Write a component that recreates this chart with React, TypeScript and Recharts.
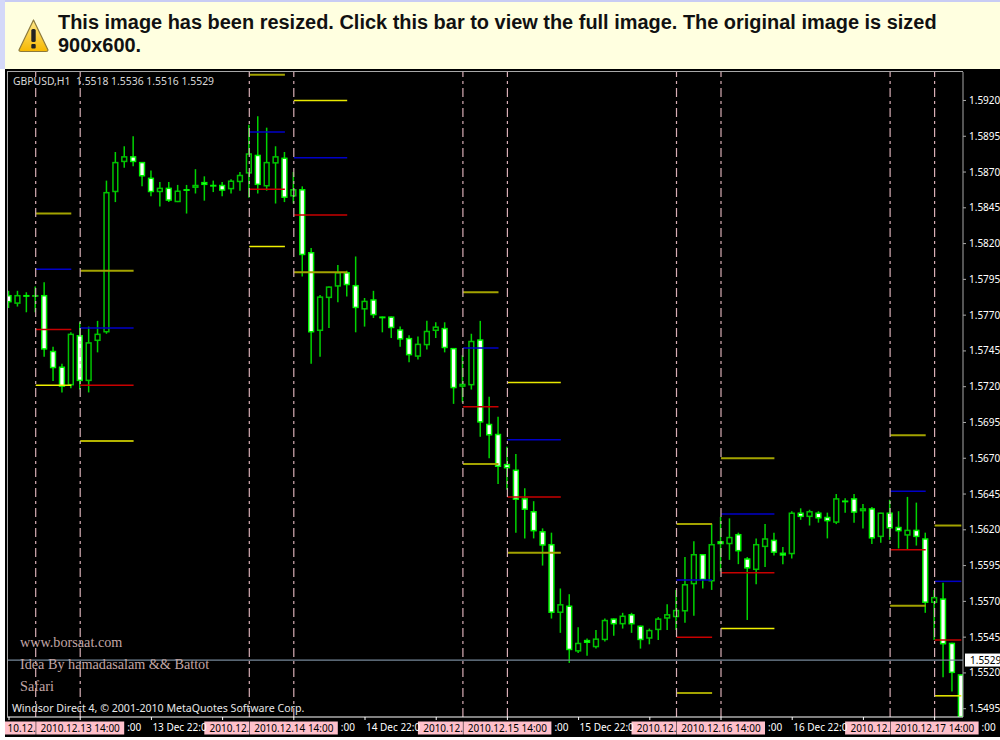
import React from "react";
import { ComposedChart, Bar, XAxis, YAxis, ReferenceLine } from "recharts";

const opens = [1.5784,1.5778,1.5784,1.5783,1.5784,1.5745,1.5734,1.5721,1.5756,1.5724,
1.5752,1.5758,1.5856,1.5877,1.5881,1.5877,1.5866,1.5856,1.5859,1.5849,
1.5858,1.5859,1.5863,1.5861,1.5861,1.5858,1.5863,1.5869,1.5882,1.5860,
1.5876,1.5880,1.5853,1.5858,1.5814,1.5759,1.5782,1.5790,1.5800,1.5791,
1.5774,1.5781,1.5769,1.5769,1.5760,1.5754,1.5741,1.5749,1.5759,1.5761,
1.5747,1.5720,1.5721,1.5753,1.5694,1.5687,1.5666,1.5662,1.5642,1.5633,
1.5619,1.5610,1.5562,1.5567,1.5535,1.5543,1.5538,1.5543,1.5558,1.5554,
1.5561,1.5553,1.5544,1.5550,1.5558,1.5559,1.5563,1.5582,1.5603,1.5584,
1.5612,1.5610,1.5617,1.5600,1.5592,1.5608,1.5613,1.5604,1.5603,1.5632,
1.5629,1.5632,1.5629,1.5625,1.5640,1.5642,1.5633,1.5635,1.5615,1.5632,
1.5622,1.5616,1.5620,1.5614,1.5569,1.5572,1.5541,1.5519];

const highs = [1.5787,1.5787,1.5786,1.5790,1.5793,1.5748,1.5736,1.5758,1.5765,1.5762,
1.5766,1.5864,1.5884,1.5888,1.5895,1.5877,1.5871,1.5863,1.5863,1.5861,
1.5861,1.5872,1.5867,1.5864,1.5863,1.5865,1.5870,1.5903,1.5909,1.5901,
1.5888,1.5884,1.5870,1.5860,1.5817,1.5784,1.5790,1.5805,1.5801,1.5811,
1.5782,1.5787,1.5769,1.5769,1.5762,1.5756,1.5755,1.5766,1.5765,1.5765,
1.5747,1.5742,1.5757,1.5766,1.5713,1.5699,1.5678,1.5673,1.5649,1.5640,
1.5621,1.5618,1.5579,1.5575,1.5552,1.5544,1.5550,1.5558,1.5558,1.5562,
1.5562,1.5553,1.5551,1.5559,1.5568,1.5578,1.5601,1.5612,1.5603,1.5624,
1.5629,1.5628,1.5618,1.5601,1.5614,1.5624,1.5618,1.5608,1.5633,1.5635,
1.5634,1.5633,1.5632,1.5645,1.5642,1.5645,1.5638,1.5636,1.5632,1.5641,
1.5633,1.5643,1.5639,1.5618,1.5578,1.5583,1.5541,1.5519];

const lows = [1.5775,1.5776,1.5772,1.5772,1.5741,1.5724,1.5716,1.5719,1.5718,1.5716,
1.5744,1.5757,1.5849,1.5873,1.5874,1.5860,1.5853,1.5846,1.5849,1.5849,
1.5841,1.5855,1.5850,1.5856,1.5853,1.5855,1.5857,1.5852,1.5855,1.5857,
1.5848,1.5849,1.5848,1.5797,1.5736,1.5741,1.5761,1.5779,1.5783,1.5758,
1.5762,1.5768,1.5758,1.5754,1.5748,1.5737,1.5739,1.5746,1.5754,1.5744,
1.5708,1.5709,1.5718,1.5685,1.5670,1.5652,1.5648,1.5618,1.5614,1.5614,
1.5595,1.5558,1.5548,1.5527,1.5534,1.5532,1.5537,1.5542,1.5546,1.5551,
1.5548,1.5537,1.5540,1.5543,1.5550,1.5550,1.5555,1.5560,1.5579,1.5578,
1.5591,1.5599,1.5596,1.5557,1.5582,1.5594,1.5602,1.5596,1.5600,1.5627,
1.5623,1.5625,1.5614,1.5624,1.5632,1.5625,1.5621,1.5610,1.5611,1.5613,
1.5607,1.5606,1.5609,1.5562,1.5543,1.5517,1.5507,1.5489];

const closes = [1.5779,1.5784,1.5783,1.5784,1.5746,1.5733,1.5720,1.5757,1.5724,1.5751,
1.5757,1.5856,1.5877,1.5881,1.5877,1.5867,1.5856,1.5859,1.5850,1.5857,
1.5857,1.5861,1.5861,1.5860,1.5857,1.5864,1.5868,1.5883,1.5861,1.5877,
1.5881,1.5852,1.5858,1.5812,1.5758,1.5783,1.5790,1.5800,1.5791,1.5775,
1.5780,1.5770,1.5768,1.5761,1.5753,1.5742,1.5750,1.5759,1.5762,1.5747,
1.5719,1.5722,1.5752,1.5695,1.5686,1.5664,1.5663,1.5641,1.5634,1.5619,
1.5609,1.5562,1.5568,1.5536,1.5541,1.5541,1.5544,1.5557,1.5554,1.5560,
1.5554,1.5543,1.5550,1.5558,1.5561,1.5564,1.5582,1.5603,1.5585,1.5610,
1.5610,1.5615,1.5605,1.5593,1.5610,1.5614,1.5604,1.5602,1.5632,1.5629,
1.5633,1.5628,1.5626,1.5642,1.5640,1.5632,1.5635,1.5614,1.5632,1.5621,
1.5619,1.5620,1.5615,1.5569,1.5573,1.5540,1.5520,1.5489];

const priceTicks = [1.5920,1.5895,1.5870,1.5845,1.5820,1.5795,1.5770,1.5745,1.5720,1.5695,1.5670,1.5645,1.5620,1.5595,1.5570,1.5545,1.5520,1.5495];
const lastPrice = 1.5529;

const timeTicks = [0,8,16,24,32,40,48,56,64,72,80,88,96,104];
const timeTickLabels = ["",":00","13 Dec 22:0","",":00","14 Dec 22:0","",":00","15 Dec 22:0","",":00","16 Dec 22:0","",":00"];

const markerBars = [3,8,27,32,51,56,75,80,99,104];
const markerLabels = ["10.12.","2010.12.13 14:00","2010.12.","2010.12.14 14:00","2010.12.","2010.12.15 14:00","2010.12.","2010.12.16 14:00","2010.12.","2010.12.17 14:00"];

const levelStart = [3,8,27,32,51,56,75,80,99,104];
const levelEnd = [7,14,31,38,55,62,79,86,103,107];
const levelTop = [1.5841,1.5801,1.5938,1.5920,1.5786,1.5723,1.5624,1.5670,1.5686,1.5623];
const levelBlue = [1.5802,1.5761,1.5898,1.5880,1.5747,1.5683,1.5585,1.5631,1.5647,1.5584];
const levelRed = [1.5760,1.5721,1.5858,1.5840,1.5706,1.5643,1.5545,1.5590,1.5606,1.5543];
const levelBottom = [1.5721,1.5682,1.5818,1.5800,1.5666,1.5604,1.5506,1.5551,1.5567,1.5504];
const topIsBright = [false,false,false,true,false,true,false,false,false,false];
const bottomIsBright = [true,true,true,false,false,false,false,true,false,true];

const candles = opens.map((open, i) => ({
  i, open, high: highs[i], low: lows[i], close: closes[i], range: [lows[i], highs[i]],
}));

const UI = '"Noto Sans", sans-serif';

function Candle(props: any) {
  const { x, y, width, height, payload } = props;
  const cx = x + width / 2;
  const ppu = height / (payload.high - payload.low);
  const bull = payload.close > payload.open;
  const top = y + (payload.high - Math.max(payload.open, payload.close)) * ppu;
  const h = Math.abs(payload.open - payload.close) * ppu;
  const inset = h > 1.4 ? 0.6 : 0;
  return (
    <g>
      <line x1={cx} x2={cx} y1={y} y2={y + height} stroke="#00d400" strokeWidth={1.5} />
      <rect x={cx - 2.4} width={4.8} y={top + inset} height={Math.max(h - 2 * inset, 0.4)}
        fill={bull ? "#000" : "#fff"} stroke={bull ? "#00c400" : "#00f400"} strokeWidth={1.5} />
    </g>
  );
}

function TimeTick(props: any) {
  const { x, y, index } = props;
  const label = timeTickLabels[index];
  if (!label) return <g />;
  return (
    <text x={label.startsWith(":") ? x + 47 : x + 1} y={y + 9} fill="#fff" fontSize={10} fontFamily={UI}>{label}</text>
  );
}

function MarkerLabel(props: any) {
  const x = props.viewBox.x;
  const bottom = props.viewBox.y + props.viewBox.height;
  const first = props.first;
  return (
    <g>
      <rect x={first ? x - 45 : x - 44} y={bottom + 4.5} width={first ? 45 : 88} height={13} fill="#ffc0cb" />
      <text x={x} y={bottom + 14.5} textAnchor={first ? "end" : "middle"} fill="#000" fontSize={10} fontFamily={UI}>{props.text}</text>
    </g>
  );
}

function LastPriceLabel(props: any) {
  const y = props.viewBox.y;
  const right = props.viewBox.x + props.viewBox.width;
  return (
    <g>
      <rect x={right + 2} y={y - 6.5} width={40} height={13} fill="#fff" />
      <text x={right + 7} y={y + 3.5} fill="#000" fontSize={10} fontFamily={UI}>{lastPrice.toFixed(4)}</text>
    </g>
  );
}

const overlay = (left: number, top: number, color: string, size: number, family: string): React.CSSProperties => ({
  position: "absolute", left, top, color, fontSize: size, fontFamily: family, lineHeight: 1, whiteSpace: "pre",
});

export default function App() {
  const levelLines: any[] = [];
  levelStart.forEach((s, n) => {
    const e = levelEnd[n];
    const add = (price: number, color: string, w: number, key: string) =>
      levelLines.push(
        <ReferenceLine key={key + n} segment={[{ x: s, y: price }, { x: e, y: price }]} stroke={color} strokeWidth={w} ifOverflow="hidden" />
      );
    add(levelTop[n], topIsBright[n] ? "#e8e800" : "#a3a300", topIsBright[n] ? 1.5 : 2, "t");
    add(levelBlue[n], "#0000c8", 1.5, "b");
    add(levelRed[n], "#c80000", 1.5, "r");
    add(levelBottom[n], bottomIsBright[n] ? "#f0f000" : "#a3a300", bottomIsBright[n] ? 1.5 : 2, "o");
  });

  return (
    <div style={{ position: "absolute", left: 0, top: 0, width: 1000, height: 740, background: "#fff", overflow: "hidden" }}>
      <div style={{ position: "absolute", left: 0, top: 0, width: 1000, height: 2, background: "#c8ccf4" }} />
      <div style={{ position: "absolute", left: 0, top: 0, width: 5, height: 69, background: "#d4d8f8" }} />
      <div style={{ position: "absolute", left: 5, top: 2, width: 995, height: 67, background: "#ffffe0" }} />
      <svg style={{ position: "absolute", left: 17, top: 18 }} width="33" height="35" viewBox="0 0 33 35">
        <defs>
          <linearGradient id="warn" x1="0" y1="0" x2="0" y2="1">
            <stop offset="0" stopColor="#ffe98a" />
            <stop offset="1" stopColor="#f6b800" />
          </linearGradient>
        </defs>
        <path d="M16.5 2 L31 32 Q31 33.5 29 33.5 L4 33.5 Q2 33.5 2 32 Z" fill="url(#warn)" stroke="#8d7a3c" strokeWidth="1.2" strokeLinejoin="round" />
        <rect x="14.3" y="11" width="4.4" height="13" rx="1.6" fill="#222" />
        <rect x="14.3" y="26" width="4.4" height="4.4" rx="1" fill="#222" />
      </svg>
      <div style={{ position: "absolute", left: 58, top: 11, width: 900, fontFamily: '"Liberation Sans", Arial, sans-serif', fontWeight: 700, fontSize: 19.95, lineHeight: "23px", color: "#111" }}>
        This image has been resized. Click this bar to view the full image. The original image is sized 900x600.
      </div>

      <div style={{ position: "absolute", left: 5, top: 69, width: 995, height: 668, background: "#000", overflow: "hidden" }}>
        <ComposedChart width={995} height={668} data={candles} margin={{ top: 3, right: 0, bottom: 0, left: 2 }}>
          <XAxis dataKey="i" type="number" domain={[-0.225, 107.19]} allowDataOverflow ticks={timeTicks} interval={0}
            tick={<TimeTick />} tickSize={3} stroke="#fff" height={20} />
          <YAxis orientation="right" type="number" domain={[1.54892, 1.59399]} allowDataOverflow ticks={priceTicks} interval={0}
            tickFormatter={(v: number) => v.toFixed(4)} tick={{ fill: "#fff", fontSize: 10, fontFamily: UI }}
            tickSize={3} tickMargin={3} stroke="#a8a8a8" width={37} />
          {levelLines}
          <ReferenceLine y={lastPrice} stroke="#76889a" strokeWidth={1.2} label={<LastPriceLabel />} />
          {markerBars.map((b, n) => (
            <ReferenceLine key={b} x={b} stroke="#d8aeb6" strokeWidth={1.2} strokeDasharray="9 4 3 4"
              label={<MarkerLabel text={markerLabels[n]} first={n % 2 === 0} />} />
          ))}
          <Bar dataKey="range" barSize={6} shape={<Candle />} isAnimationActive={false} />
        </ComposedChart>
      </div>

      <div style={{ position: "absolute", left: 7, top: 71, width: 956, height: 1, background: "#a8a8a8" }} />
      <div style={{ position: "absolute", left: 7, top: 71, width: 1, height: 646, background: "#a8a8a8" }} />

      <div style={overlay(13, 76, "#d8d8d8", 10.4, UI)}>{"GBPUSD,H1  1.5518 1.5536 1.5516 1.5529"}</div>
      <div style={overlay(20, 635, "#c2a6a6", 14.2, '"Liberation Serif", serif')}>www.borsaat.com</div>
      <div style={overlay(20, 657, "#c2a6a6", 14.2, '"Liberation Serif", serif')}>{"Idea By hamadasalam && Battot"}</div>
      <div style={overlay(20, 679, "#c2a6a6", 14.2, '"Liberation Serif", serif')}>Safari</div>
      <div style={overlay(12, 703, "#e8e8e8", 10.6, UI)}>{"Windsor Direct 4, © 2001-2010 MetaQuotes Software Corp."}</div>
    </div>
  );
}
